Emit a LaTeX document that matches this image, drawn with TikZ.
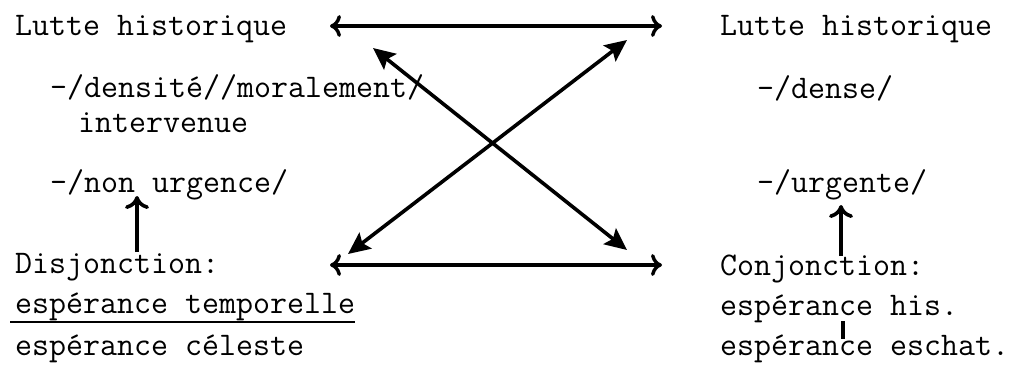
\documentclass[tikz,border=0pt]{standalone}
\usetikzlibrary{arrows.meta}
\begin{document}
\begin{tikzpicture}[x=1pt,y=-1pt,
  txt/.style={anchor=base west,inner sep=0pt,font=\fontsize{33}{38}\selectfont\ttfamily},
  harrow/.style={line width=3.4pt,{To[length=11pt,width=22pt]}-{To[length=11pt,width=22pt]}},
  darrow/.style={line width=3.6pt,{Stealth[length=22pt,width=20pt,inset=4pt]}-{Stealth[length=22pt,width=20pt,inset=4pt]}},
  uarrow/.style={line width=3.6pt,-{To[length=13pt,width=24pt]}},
  plain/.style={line width=3.4pt}]
\useasboundingbox (0,0) rectangle (1009,368);
% left column
\node[txt] (l1) at (15,35) {Lutte historique};
\node[txt] (l2) at (50,97) {-/densité//moralement/};
\node[txt] (l3) at (78,132) {intervenue};
\node[txt] (l4) at (50,192) {-/non urgence/};
\node[txt] (l5) at (15,273) {Disjonction:};
\node[txt] (l6) at (15,313) {espérance temporelle};
\node[txt] (l7) at (15,355) {espérance céleste};
% right column
\node[txt] (r1) at (720,35) {Lutte historique};
\node[txt] (r2) at (757,98) {-/dense/};
\node[txt] (r3) at (757,192) {-/urgente/};
\node[txt] (r4) at (720,275) {Conjonction:};
\node[txt] (r5) at (720,315) {espérance his.};
\node[txt] (r6) at (720,355) {espérance eschat.};
% arrow end points
\coordinate (tL) at (330,26);
\coordinate (tR) at (662,26);
\coordinate (bL) at (330,265);
\coordinate (bR) at (662,265);
\coordinate (d1a) at (348,254);
\coordinate (d1b) at (627,40);
\coordinate (d2a) at (373,48);
\coordinate (d2b) at (627,250);
\coordinate (u1a) at (137,252);
\coordinate (u1b) at (137,196);
\coordinate (u2a) at (841,256);
\coordinate (u2b) at (841,205);
\coordinate (s1) at (843,321);
\coordinate (s2) at (843,339);
\coordinate (ul1) at (10,322);
\coordinate (ul2) at (355,322);
\draw[harrow] (tL) -- (tR);
\draw[harrow] (bL) -- (bR);
\draw[darrow] (d1a) -- (d1b);
\draw[darrow] (d2a) -- (d2b);
\draw[uarrow] (u1a) -- (u1b);
\draw[uarrow] (u2a) -- (u2b);
\draw[plain] (s1) -- (s2);
\draw[line width=2.6pt] (ul1) -- (ul2);
\end{tikzpicture}
\end{document}
